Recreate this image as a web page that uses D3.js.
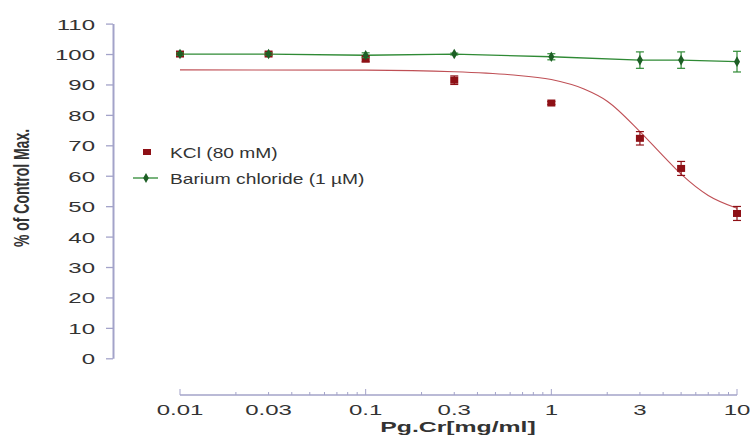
<!DOCTYPE html>
<html>
<head>
<meta charset="utf-8">
<script src="https://cdn.jsdelivr.net/npm/d3@7"></script>
<style>
body { margin: 0; background: #fff; }
text { font-family: "Liberation Sans", Arial, sans-serif; fill: #333; }
</style>
</head>
<body>
<div class="container"></div>
<script>
// data
var doses    = [0.01, 0.03, 0.1, 0.3, 1, 3, 5, 10];
var kcl      = [100, 100, 98.4, 91.4, 83.9, 72.3, 62.4, 47.6];
var kclErr   = [0, 0, 1.0, 1.4, 0.5, 2.2, 2.3, 2.3];
var barium   = [100, 100, 99.6, 100, 99.1, 98.0, 98.0, 97.5];
var bariumErr = [0.4, 0.4, 0.8, 0.3, 1.0, 2.7, 2.7, 3.4];

// fitted KCl curve, read at several doses
var fitDoses = [0.01, 0.1, 0.3, 0.6, 1, 1.5, 2, 3, 4, 5, 7, 10];
var fitVals  = [94.8, 94.7, 94.2, 93.2, 91.6, 88.5, 84.5, 74.5, 66.5, 60.5, 53.5, 49.3];

var xTicks = [0.01, 0.03, 0.1, 0.3, 1, 3, 10];
var yTicks = [0, 10, 20, 30, 40, 50, 60, 70, 80, 90, 100, 110];

var W = 751, H = 435;
var sx = 1.6;   // the source picture is stretched sideways
var axisCol = '#a3a3c9';
var red = '#8e1016', green = '#2f8a35', dkgreen = '#1d5f25';

var svg = d3.select('.container')
    .append('svg')
    .attr('width', W)
    .attr('height', H);

var x = d3.scaleLog().domain([0.01, 10]).range([180, 737]);
var y = d3.scaleLinear().domain([0, 110]).range([358.3, 23.6]);

// y axis
var gy = svg.append('g')
    .attr('transform', 'translate(113,0)')
    .call(d3.axisLeft(y).tickValues(yTicks).tickSize(7).tickSizeOuter(0));
gy.select('.domain').style('stroke', axisCol).style('stroke-width', 2);
gy.selectAll('.tick line').style('stroke', axisCol).style('stroke-width', 1.3);
gy.selectAll('.tick text')
    .attr('x', -18 / sx)
    .attr('dy', '0.36em')
    .attr('transform', 'scale(' + sx + ',1)')
    .style('font-size', '15px')
    .style('fill', '#333');

// x axis (ticks point up)
svg.append('line')
    .attr('x1', x(0.01)).attr('x2', x(10))
    .attr('y1', 395).attr('y2', 395)
    .style('stroke', axisCol).style('stroke-width', 1.5);

var minor = x.ticks();
svg.selectAll('.xminor')
    .data(minor)
    .enter()
    .append('line')
    .attr('class', 'xminor')
    .attr('x1', d => x(d)).attr('x2', d => x(d))
    .attr('y1', 395)
    .attr('y2', d => (Math.abs(Math.log10(d) - Math.round(Math.log10(d))) < 1e-6) ? 389 : 392)
    .style('stroke', axisCol).style('stroke-width', 1);

svg.selectAll('.xlab')
    .data(xTicks)
    .enter()
    .append('text')
    .attr('class', 'xlab')
    .attr('transform', d => 'translate(' + x(d) + ',415) scale(' + sx + ',1)')
    .attr('text-anchor', 'middle')
    .style('font-size', '15px')
    .text(d => d);

svg.append('text')
    .attr('transform', 'translate(458,432) scale(' + sx + ',1)')
    .attr('text-anchor', 'middle')
    .style('font-size', '15.5px')
    .style('font-weight', 'bold')
    .text('Pg.Cr[mg/ml]');

svg.append('text')
    .attr('transform', 'translate(29,188) scale(' + sx + ',1) rotate(-90)')
    .attr('text-anchor', 'middle')
    .style('font-size', '14px')
    .style('font-weight', 'bold')
    .text('% of Control Max.');

// fitted curve
var fit = fitDoses.map((d, i) => [d, fitVals[i]]);
svg.append('path')
    .datum(fit)
    .attr('d', d3.line().x(d => x(d[0])).y(d => y(d[1])).curve(d3.curveMonotoneX))
    .style('fill', 'none')
    .style('stroke', '#bf4f55')
    .style('stroke-width', 1.1);

// barium line
var ba = doses.map((d, i) => [d, barium[i], bariumErr[i]]);
var kc = doses.map((d, i) => [d, kcl[i], kclErr[i]]);

svg.append('path')
    .datum(ba)
    .attr('d', d3.line().x(d => x(d[0])).y(d => y(d[1])))
    .style('fill', 'none')
    .style('stroke', green)
    .style('stroke-width', 1.3);

function errBars(data, col, cls) {
    var g = svg.selectAll('.' + cls)
        .data(data.filter(d => d[2] > 0))
        .enter()
        .append('g')
        .attr('class', cls)
        .style('stroke', col)
        .style('stroke-width', 1.2);
    g.append('line')
        .attr('x1', d => x(d[0])).attr('x2', d => x(d[0]))
        .attr('y1', d => y(d[1] - d[2])).attr('y2', d => y(d[1] + d[2]));
    g.append('line')
        .attr('x1', d => x(d[0]) - 4).attr('x2', d => x(d[0]) + 4)
        .attr('y1', d => y(d[1] - d[2])).attr('y2', d => y(d[1] - d[2]));
    g.append('line')
        .attr('x1', d => x(d[0]) - 4).attr('x2', d => x(d[0]) + 4)
        .attr('y1', d => y(d[1] + d[2])).attr('y2', d => y(d[1] + d[2]));
}

errBars(kc, red, 'kerr');
svg.selectAll('.ksq')
    .data(kc)
    .enter()
    .append('rect')
    .attr('class', 'ksq')
    .attr('x', d => x(d[0]) - 4)
    .attr('y', d => y(d[1]) - 3.5)
    .attr('width', 8)
    .attr('height', 7)
    .style('fill', red);

errBars(ba, green, 'berr');
svg.selectAll('.bpt')
    .data(ba)
    .enter()
    .append('path')
    .attr('class', 'bpt')
    .attr('transform', d => 'translate(' + x(d[0]) + ',' + y(d[1]) + ')')
    .attr('d', d3.symbol().type(d3.symbolDiamond).size(32))
    .style('fill', dkgreen);

// legend
svg.append('rect')
    .attr('x', 143).attr('y', 149)
    .attr('width', 8).attr('height', 6)
    .style('fill', red);
svg.append('text')
    .attr('transform', 'translate(170,158) scale(' + (sx * 0.8) + ',1)')
    .style('font-size', '15px')
    .text('KCl (80 mM)');

svg.append('line')
    .attr('x1', 133).attr('x2', 158)
    .attr('y1', 178).attr('y2', 178)
    .style('stroke', green).style('stroke-width', 1.3);
svg.append('path')
    .attr('transform', 'translate(146,178)')
    .attr('d', d3.symbol().type(d3.symbolDiamond).size(28))
    .style('fill', dkgreen);
svg.append('text')
    .attr('transform', 'translate(170,184) scale(' + (sx * 0.8) + ',1)')
    .style('font-size', '15px')
    .text('Barium chloride (1 \u00b5M)');
</script>
</body>
</html>
